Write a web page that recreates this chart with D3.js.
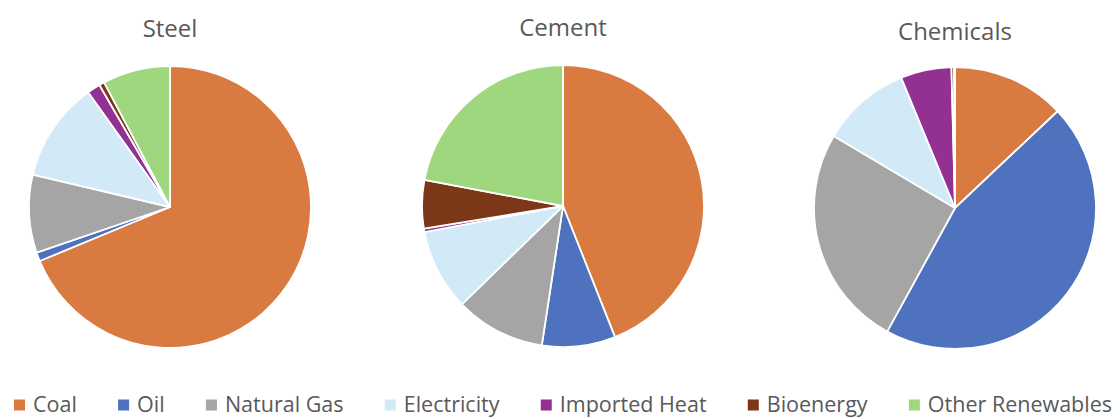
<!DOCTYPE html>
<html><head><meta charset="utf-8">
<script src="https://cdn.jsdelivr.net/npm/d3@7"></script>
<style>html,body{margin:0;padding:0;background:#fff;}svg{display:block;}</style>
</head><body>
<svg id="chart" width="1120" height="419"></svg>
<script>
const categories = ["Coal","Oil","Natural Gas","Electricity","Imported Heat","Bioenergy","Other Renewables"];
const colors = ["#D97A40","#4F72BE","#A5A5A5","#D2EAF7","#923191","#7B3718","#9FD77E"];
const sectors = ["Steel","Cement","Chemicals"];
const steelValues = [68.4, 1.0, 8.9, 11.4, 1.5, 0.6, 7.7];
const cementValues = [43.9, 8.4, 10.3, 9.3, 0.4, 5.5, 22.0];
const chemicalsValues = [12.9, 44.8, 25.4, 10.2, 5.8, 0.3, 0.1];
const seriesValues = [steelValues, cementValues, chemicalsValues];

const svg = d3.select("#chart");
const layout = [
  {cx:170, cy:207, r:141, ty:37},
  {cx:563, cy:206, r:141, ty:36},
  {cx:955, cy:208, r:141, ty:40}
];
const color = d3.scaleOrdinal().domain(categories).range(colors);
const pie = d3.pie().sort(null).value(d => d.v);

sectors.forEach((s, i) => {
  const L = layout[i];
  const g = svg.append("g").attr("transform", `translate(${L.cx},${L.cy})`);
  const arc = d3.arc().innerRadius(0).outerRadius(L.r);
  const data = categories.map((c, j) => ({c, v: seriesValues[i][j]}));
  g.selectAll("path").data(pie(data)).join("path")
    .attr("d", arc)
    .attr("fill", d => color(d.data.c))
    .attr("stroke", "#fff")
    .attr("stroke-width", 1.8)
    .attr("stroke-linejoin", "round");
  svg.append("text")
    .attr("x", L.cx).attr("y", L.ty)
    .attr("text-anchor", "middle")
    .attr("font-family", "'Open Sans', sans-serif")
    .attr("font-size", 24)
    .attr("fill", "#595959")
    .text(s);
});

// legend
const lg = svg.append("g");
const fs = 21.5, box = 11, gapT = 8;
const legLeft = 14, legRight = 1112;
const items = [];
let sumW = 0;
categories.forEach((c) => {
  const t = lg.append("text")
    .attr("font-family", "'Open Sans', sans-serif")
    .attr("font-size", fs)
    .attr("fill", "#595959")
    .attr("y", 412)
    .text(c);
  const w = t.node().getComputedTextLength();
  items.push({c, t, w});
  sumW += box + gapT + w;
});
const gapI = (legRight - legLeft - sumW) / (categories.length - 1);
let x = legLeft;
items.forEach(it => {
  lg.append("rect")
    .attr("x", x).attr("y", 399.5)
    .attr("width", box).attr("height", box)
    .attr("fill", color(it.c));
  it.t.attr("x", x + box + gapT);
  x += box + gapT + it.w + gapI;
});
</script>
</body></html>
